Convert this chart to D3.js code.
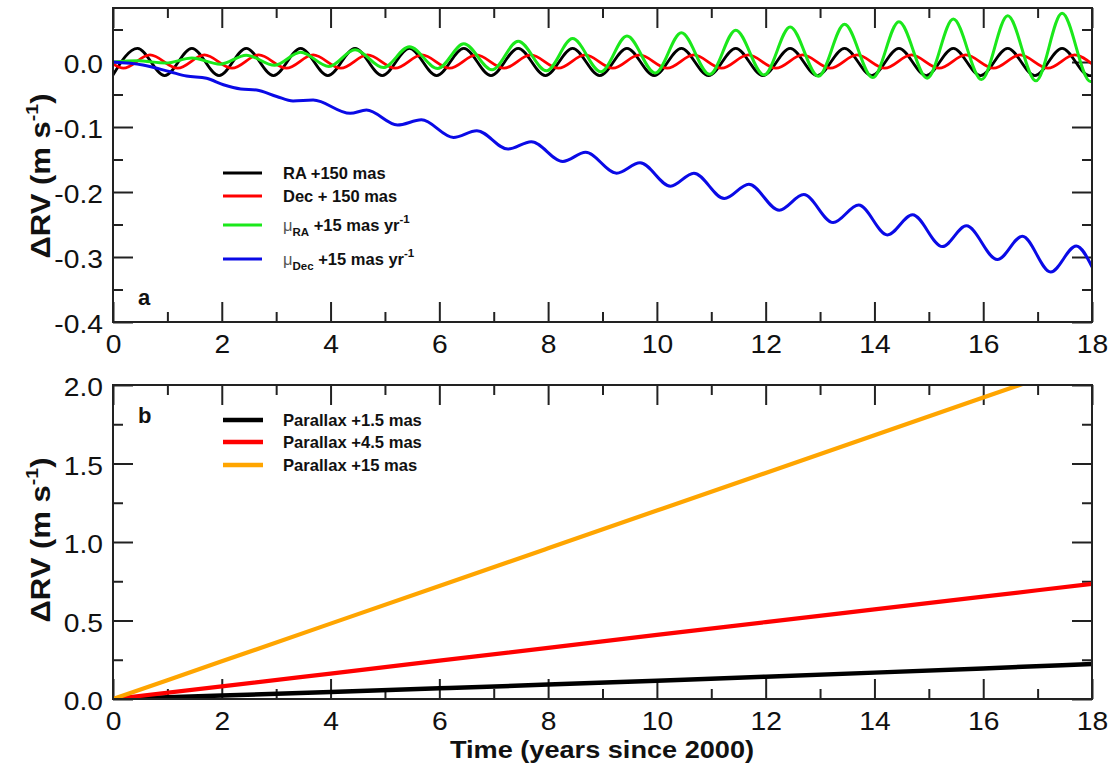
<!DOCTYPE html>
<html><head><meta charset="utf-8">
<script src="https://cdn.jsdelivr.net/npm/d3@7"></script>
<style>
html,body{margin:0;padding:0;background:#fff;}
svg{display:block;}
text{font-family:"Liberation Sans",Arial,Helvetica,sans-serif;fill:#111;}
</style></head>
<body><svg id="c" width="1114" height="769"></svg>
<script>
// ---------- data ----------
const xTicksMajor = [0,2,4,6,8,10,12,14,16,18];
const xTicksMinor = [1,3,5,7,9,11,13,15,17];
const yTopMajor = [-0.4,-0.3,-0.2,-0.1,0.0];
const yTopMinor = [-0.35,-0.25,-0.15,-0.05,0.05];
const yBotMajor = [0,0.5,1.0,1.5,2.0];
const yBotMinor = [0.25,0.75,1.25,1.75];

// RA +150 mas (black)
const raT = [0,0.45,0.95,1.45,1.95,2.45,2.95,3.45,3.95,4.45,4.95,5.45,5.95,6.45,6.95,7.45,7.95,8.45,8.95,9.45,9.95,10.45,10.95,11.45,11.95,12.45,12.95,13.45,13.95,14.45,14.95,15.45,15.95,16.45,16.95,17.45,17.95,18];
const raV = [-0.020,0.021,-0.021,0.021,-0.021,0.021,-0.021,0.021,-0.021,0.021,-0.021,0.021,-0.021,0.021,-0.021,0.021,-0.021,0.021,-0.021,0.021,-0.021,0.021,-0.021,0.021,-0.021,0.021,-0.021,0.021,-0.021,0.021,-0.021,0.021,-0.021,0.021,-0.021,0.021,-0.021,-0.0208];
// Dec +150 mas (red)
const decT = [0,0.19,0.68,1.19,1.68,2.19,2.68,3.19,3.68,4.19,4.68,5.19,5.68,6.19,6.68,7.19,7.68,8.19,8.68,9.19,9.68,10.19,10.68,11.19,11.68,12.19,12.68,13.19,13.68,14.19,14.68,15.19,15.68,16.19,16.68,17.19,17.68,18];
const decV = [-0.003,-0.0095,0.011,-0.0095,0.011,-0.0095,0.011,-0.0095,0.011,-0.0095,0.011,-0.0095,0.011,-0.0095,0.011,-0.0095,0.011,-0.0095,0.011,-0.0095,0.011,-0.0095,0.011,-0.0095,0.011,-0.0095,0.011,-0.0095,0.011,-0.0095,0.011,-0.0095,0.011,-0.0095,0.011,-0.0095,0.011,-0.003];
// mu_RA +15 mas/yr (green)
const pmRaT = [0,0.45,0.97,1.45,1.97,2.45,2.97,3.45,3.97,4.45,4.97,5.45,5.97,6.45,6.97,7.45,7.97,8.45,8.97,9.45,9.97,10.45,10.97,11.45,11.97,12.45,12.97,13.45,13.97,14.45,14.97,15.45,15.97,16.45,16.97,17.45,17.97,18];
const pmRaV = [0,0.002,-0.0016,0.006,-0.0034,0.0105,-0.005,0.015,-0.0068,0.019,-0.0085,0.0235,-0.010,0.028,-0.012,0.032,-0.0135,0.036,-0.015,0.040,-0.017,0.045,-0.019,0.049,-0.020,0.054,-0.022,0.058,-0.024,0.062,-0.025,0.066,-0.027,0.071,-0.029,0.075,-0.030,-0.0299];
// mu_Dec +15 mas/yr (blue)
const pmDecT = [0,0.55,1.05,1.35,1.72,2.03,2.35,2.64,3.01,3.31,3.68,4.36,4.66,5.23,5.67,6.26,6.69,7.26,7.69,8.27,8.69,9.26,9.69,10.25,10.68,11.24,11.69,12.25,12.70,13.24,13.71,14.24,14.70,15.25,15.69,16.26,16.72,17.24,17.71,18];
const pmDecV = [0,-0.0046,-0.015,-0.0215,-0.025,-0.035,-0.0415,-0.043,-0.053,-0.060,-0.0585,-0.079,-0.074,-0.097,-0.089,-0.116,-0.1057,-0.134,-0.1226,-0.153,-0.139,-0.171,-0.155,-0.191,-0.171,-0.210,-0.188,-0.228,-0.204,-0.247,-0.220,-0.266,-0.235,-0.284,-0.252,-0.304,-0.268,-0.323,-0.283,-0.315];

// Parallax series (bottom panel)
const parT = [0,2,4,6,8,10,12,14,16,18];
const par15V = [0,0.022,0.045,0.068,0.092,0.117,0.142,0.168,0.195,0.223];
const par45V = [0,0.080,0.162,0.244,0.326,0.408,0.490,0.571,0.652,0.733];
const par150V = [0,0.24,0.48,0.72,0.96,1.20,1.44,1.68,1.92,2.16];

const topNames = ["RA +150 mas","Dec + 150 mas","RA","Dec"];
const botNames = ["Parallax +1.5 mas","Parallax +4.5 mas","Parallax +15 mas"];

// ---------- drawing ----------
const svg = d3.select("#c");
svg.append("rect").attr("width",1114).attr("height",769).attr("fill","#fff");
const X0=113, X1=1092;
const FONT='"Liberation Sans",Arial,Helvetica,sans-serif';
const SX = 1.13; // horizontal stretch of tick labels in the reference

const x = d3.scaleLinear().domain([0,18]).range([X0,X1]);
const yT = d3.scaleLinear().domain([-0.4,0.0831]).range([322,8]);
const yB = d3.scaleLinear().domain([0,2]).range([699,385]);

function stretchTexts(sel){
  sel.selectAll(".tick text").each(function(){
    const t=d3.select(this);
    const tx=+t.attr("x")||0, ty=+t.attr("y")||0;
    t.attr("x",0).attr("y",0).attr("transform",`translate(${tx},${ty}) scale(${SX},1)`);
  });
}

function panel(y, yMajor, yMinor, yFmt, id){
  const top=y.range()[1], bot=y.range()[0];
  const g = svg.append("g");
  svg.append("clipPath").attr("id",id).append("rect")
    .attr("x",X0).attr("y",top).attr("width",X1-X0).attr("height",bot-top);
  const styleAxis = a => { a.select(".domain").remove();
    a.selectAll(".tick line").attr("stroke","#222").attr("stroke-width",2);
    a.selectAll("text").attr("font-family",FONT).attr("font-size",25).attr("fill","#111"); };
  const ab = g.append("g").attr("transform",`translate(0,${bot})`)
    .call(d3.axisBottom(x).tickValues(xTicksMajor).tickSize(-20).tickPadding(13).tickFormat(d3.format("d")));
  styleAxis(ab); stretchTexts(ab);
  const abm = g.append("g").attr("transform",`translate(0,${bot})`)
    .call(d3.axisBottom(x).tickValues(xTicksMinor).tickSize(-10).tickFormat(""));
  styleAxis(abm);
  const at = g.append("g").attr("transform",`translate(0,${top})`)
    .call(d3.axisTop(x).tickValues(xTicksMajor).tickSize(-20).tickFormat(""));
  styleAxis(at);
  const atm = g.append("g").attr("transform",`translate(0,${top})`)
    .call(d3.axisTop(x).tickValues(xTicksMinor).tickSize(-10).tickFormat(""));
  styleAxis(atm);
  const al = g.append("g").attr("transform",`translate(${X0},0)`)
    .call(d3.axisLeft(y).tickValues(yMajor).tickSize(-20).tickPadding(10).tickFormat(yFmt));
  styleAxis(al);
  al.selectAll(".tick text").attr("dy","0.42em");
  stretchTexts(al);
  const alm = g.append("g").attr("transform",`translate(${X0},0)`)
    .call(d3.axisLeft(y).tickValues(yMinor).tickSize(-10).tickFormat(""));
  styleAxis(alm);
  const ar = g.append("g").attr("transform",`translate(${X1},0)`)
    .call(d3.axisRight(y).tickValues(yMajor).tickSize(-20).tickFormat(""));
  styleAxis(ar);
  const arm = g.append("g").attr("transform",`translate(${X1},0)`)
    .call(d3.axisRight(y).tickValues(yMinor).tickSize(-10).tickFormat(""));
  styleAxis(arm);
  return g;
}

// hyphen-minus as in the reference
const fmt1 = v => (Math.abs(v) < 1e-9 ? 0 : v).toFixed(1);
panel(yT, yTopMajor, yTopMinor, fmt1, "clipTop");
panel(yB, yBotMajor, yBotMinor, fmt1, "clipBot");

function series(T, V, y, color, w, clip, curve){
  svg.append("path")
    .datum(T.map((t,i)=>[t,V[i]]))
    .attr("clip-path",`url(#${clip})`)
    .attr("fill","none").attr("stroke",color).attr("stroke-width",w)
    .attr("stroke-linejoin","round").attr("stroke-linecap","round")
    .attr("d", d3.line().x(d=>x(d[0])).y(d=>y(d[1])).curve(curve));
}
const cTop = d3.curveMonotoneX;
series(raT, raV, yT, "#000", 2.8, "clipTop", cTop);
series(decT, decV, yT, "#f00", 2.8, "clipTop", cTop);
series(pmRaT, pmRaV, yT, "#1be81b", 3, "clipTop", cTop);
series(pmDecT, pmDecV, yT, "#0a0ae6", 3, "clipTop", cTop);

series(parT, par15V, yB, "#000", 4.5, "clipBot", d3.curveMonotoneX);
series(parT, par45V, yB, "#f00", 4.2, "clipBot", d3.curveMonotoneX);
series(parT, par150V, yB, "#ffa500", 4.2, "clipBot", d3.curveMonotoneX);

// frames
[yT, yB].forEach(y=>{
  const top=y.range()[1], bot=y.range()[0];
  svg.append("rect").attr("x",X0).attr("y",top).attr("width",X1-X0).attr("height",bot-top)
    .attr("fill","none").attr("stroke","#222").attr("stroke-width",2);
});

// panel labels
svg.append("text").attr("x",138).attr("y",305).attr("font-size",22).attr("font-weight","bold").text("a");
svg.append("text").attr("x",138).attr("y",423).attr("font-size",22).attr("font-weight","bold").text("b");

// y titles
function yTitle(cy){
  const t = svg.append("text").attr("transform",`translate(50,${cy}) rotate(-90) scale(1.15,1)`)
    .attr("text-anchor","middle").attr("font-size",27).attr("font-weight","bold");
  t.append("tspan").text("\u0394RV (m s");
  t.append("tspan").attr("font-size",17).attr("dy",-12).text("-1");
  t.append("tspan").attr("dy",12).text(")");
}
yTitle(176);
yTitle(540);

// x title
svg.append("text").attr("transform","translate(602,758) scale(1.18,1)")
  .attr("text-anchor","middle").attr("font-size",23).attr("font-weight","bold")
  .text("Time (years since 2000)");

// top legend
const topLeg = [
  {c:"#000", y:173, name:topNames[0]},
  {c:"#f00", y:196, name:topNames[1]},
  {c:"#1be81b", y:225, sub:topNames[2]},
  {c:"#0a0ae6", y:259, sub:topNames[3]}
];
topLeg.forEach(d=>{
  svg.append("line").attr("x1",223).attr("x2",262).attr("y1",d.y).attr("y2",d.y)
    .attr("stroke",d.c).attr("stroke-width",3);
  const t = svg.append("text").attr("x",283).attr("y",d.y+6).attr("font-size",16.5).attr("font-weight","bold");
  if(d.name){ t.text(d.name); }
  else {
    t.append("tspan").attr("font-weight","normal").attr("fill","#555").text("\u03bc");
    t.append("tspan").attr("font-size",11.5).attr("dy",5).text(d.sub);
    t.append("tspan").attr("dy",-5).text(" +15 mas yr");
    t.append("tspan").attr("font-size",11.5).attr("dy",-8).text("-1");
  }
});

// bottom legend
const botLeg = [
  {c:"#000", y:420, name:botNames[0]},
  {c:"#f00", y:442, name:botNames[1]},
  {c:"#ffa500", y:465, name:botNames[2]}
];
botLeg.forEach(d=>{
  svg.append("line").attr("x1",223).attr("x2",263).attr("y1",d.y).attr("y2",d.y)
    .attr("stroke",d.c).attr("stroke-width",4.5);
  svg.append("text").attr("x",283).attr("y",d.y+6).attr("font-size",16.6).attr("font-weight","bold").text(d.name);
});
</script></body></html>
